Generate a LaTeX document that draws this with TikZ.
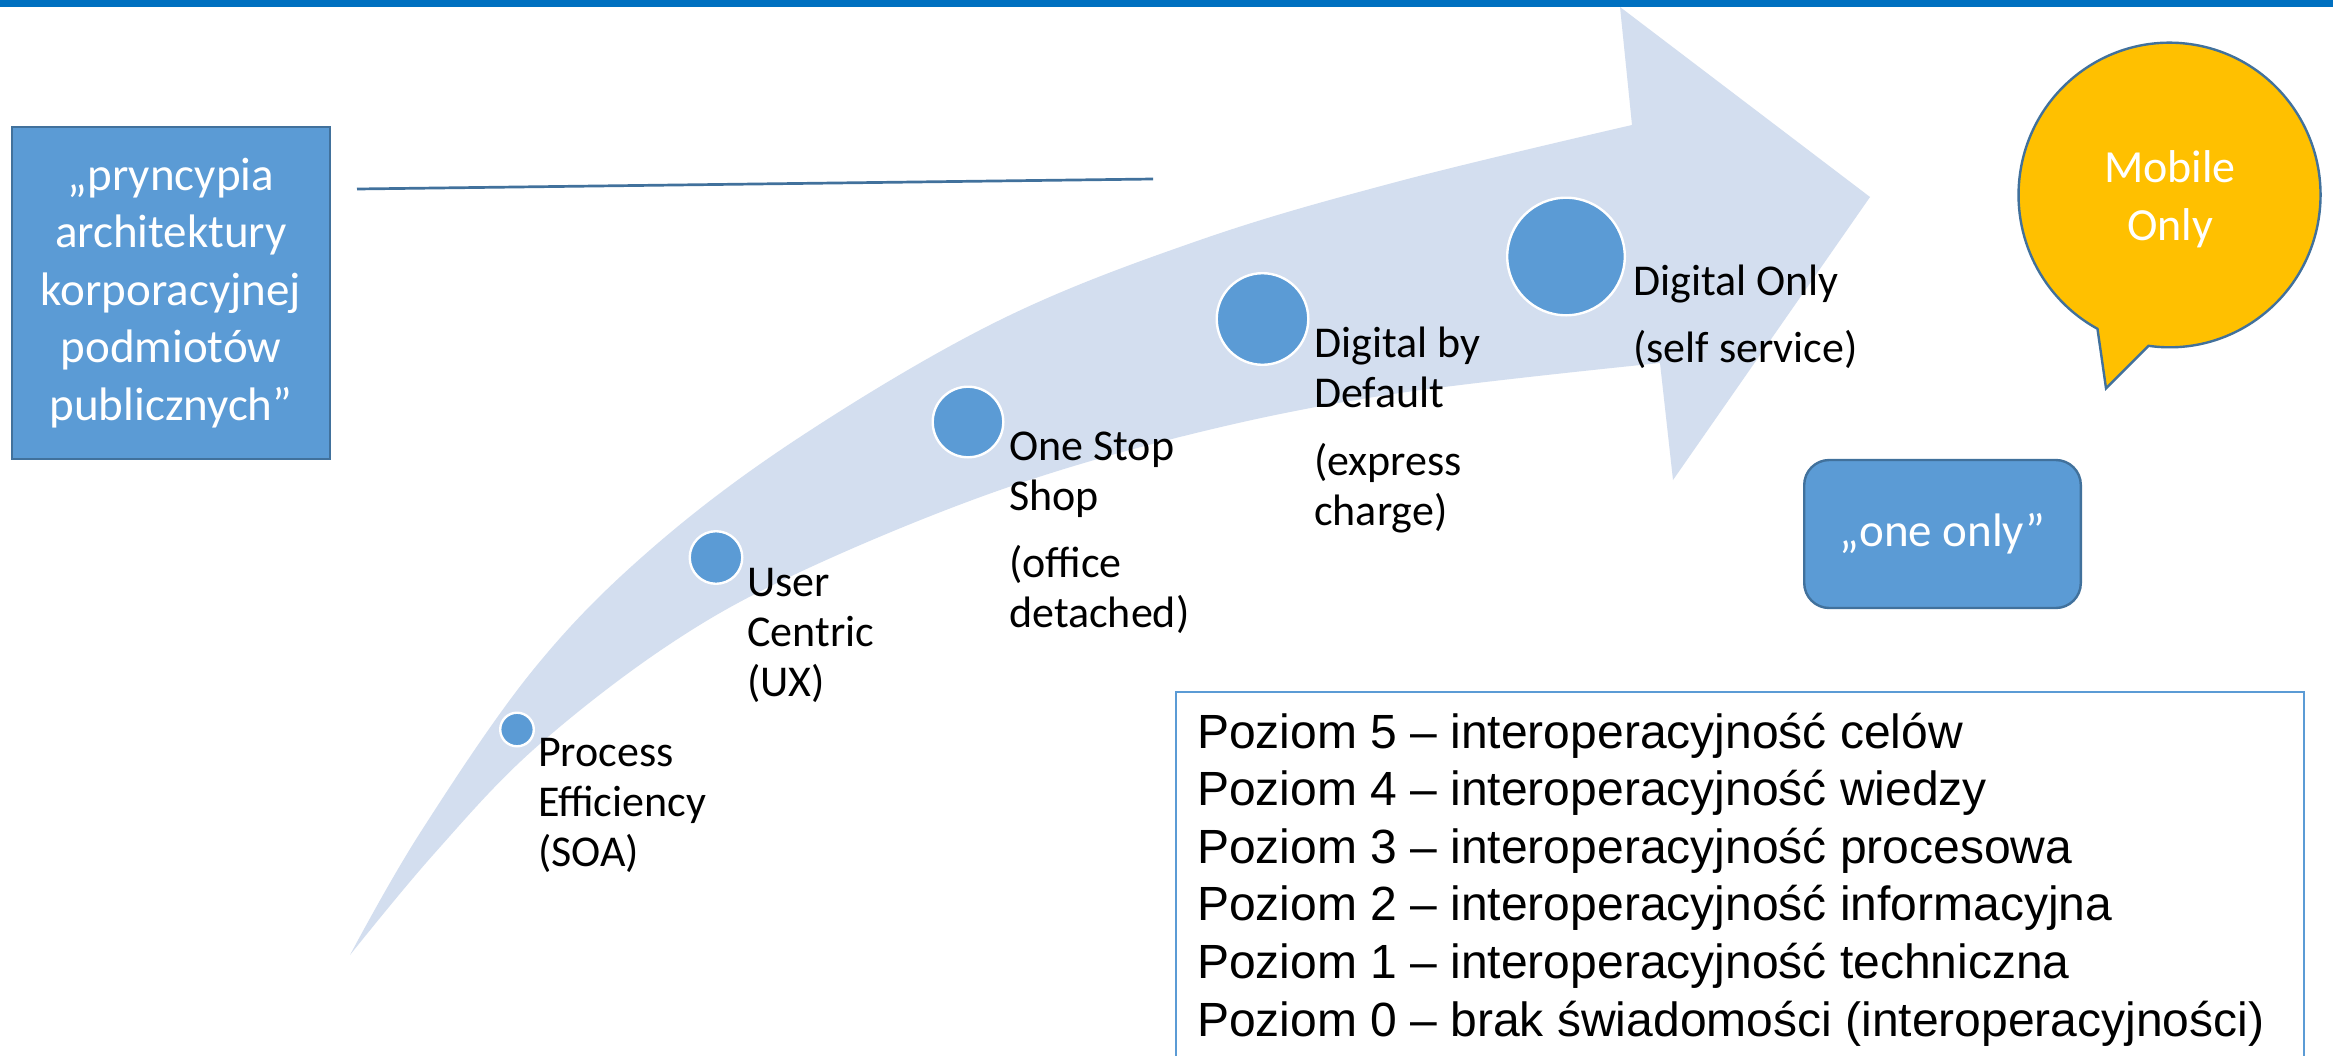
\documentclass[tikz,border=0pt]{standalone}
\usepackage{fontspec}
\setmainfont{Carlito}
\newfontfamily\arialf{Liberation Sans}
\definecolor{barblue}{HTML}{0070C0}
\definecolor{arrowfill}{HTML}{D3DEEF}
\definecolor{accent}{HTML}{5B9BD5}
\definecolor{accentdark}{HTML}{41719C}
\definecolor{gold}{HTML}{FFC000}
\tikzset{
  dot/.style={circle, fill=accent, draw=white, line width=2.4, inner sep=0pt},
  lbl/.style={anchor=base west, align=left, inner sep=0pt, text=black,
    font=\fontsize{44}{50}\selectfont},
  bluebox/.style={rectangle, fill=accent, draw=accentdark, line width=2.4,
    text=white, align=center, inner sep=0pt},
  wtext/.style={text=white, align=center, inner sep=0pt, anchor=base},
}
\begin{document}
\begin{tikzpicture}[x=1pt,y=1pt]
\useasboundingbox (0,0) rectangle (2333,-1055);
\fill[white] (0,0) rectangle (2333,-1055);
\fill[barblue] (0,0) rectangle (2333,-7);
% curved arrow
\fill[arrowfill] plot[smooth, tension=0.6] coordinates {(350,-955) (420,-833) (533,-670) (650,-550) (800,-437) (1000,-320) (1200,-240) (1400,-181) (1632,-125)}
  -- (1620,-7) -- (1870,-197) -- (1673,-480) -- (1660,-363)
  -- plot[smooth, tension=0.6] coordinates {(1660,-363) (1400,-393) (1200,-432) (1000,-490) (800,-572) (667,-646) (533,-750) (433,-855) (350,-955)}
  -- cycle;
% left box
\node[bluebox, minimum width=317.6, minimum height=331.6,
  font=\fontsize{47}{57.5}\selectfont] (princ) at (171,-293)
  {„pryncypia\\architektury\\korporacyjnej\\podmiotów\\publicznych”};
\coordinate (ls) at (357,-189);
\coordinate (le) at (1153,-179);
\draw[accentdark, line width=2.7] (ls) -- (le);
% circles
\node[dot, minimum size=33.6] (c1) at (517,-729.5) {};
\node[dot, minimum size=52.6] (c2) at (716,-557.5) {};
\node[dot, minimum size=70.6] (c3) at (968,-422) {};
\node[dot, minimum size=91.6] (c4) at (1262.5,-319) {};
\node[dot, minimum size=117.6] (c5) at (1566,-256.5) {};
% labels (anchored at the baseline of their last line)
\node[lbl] (l1) at (538,-866) {Process\\Efficiency\\(SOA)};
\node[lbl] (l2) at (747,-696) {User\\Centric\\(UX)};
\node[lbl] (l3) at (1009,-627) {One Stop\\Shop\\[17pt](office\\detached)};
\node[lbl] (l4) at (1314,-525) {Digital by\\Default\\[18pt](express\\charge)};
\node[lbl] (l5) at (1633,-362) {Digital Only\\[17pt](self service)};
% speech bubble
\draw[fill=gold, draw=accentdark, line width=2.4] (2106,-388.3) -- (2148.5,-345.8)
  arc[start angle=262, end angle=601.5, x radius=151, y radius=152.3] -- cycle;
\node[wtext, font=\fontsize{46}{58}\selectfont] (mobile) at (2170,-240.7) {Mobile\\Only};
% one only box
\node[bluebox, rounded corners=25, minimum width=276.6, minimum height=148,
  font=\fontsize{47}{57}\selectfont] (oneonly) at (1942.5,-534) {„one only”};
% levels box
\draw[accent, line width=2] (1176,-692) rectangle (2304,-1070);
\node[anchor=base west, align=left, inner sep=0pt,
  font=\arialf\fontsize{48}{57.6}\selectfont] (levels) at (1197,-1036)
  {Poziom 5 – interoperacyjność celów\\
   Poziom 4 – interoperacyjność wiedzy\\
   Poziom 3 – interoperacyjność procesowa\\
   Poziom 2 – interoperacyjność informacyjna\\
   Poziom 1 – interoperacyjność techniczna\\
   Poziom 0 – brak świadomości (interoperacyjności)};
\end{tikzpicture}
\end{document}
